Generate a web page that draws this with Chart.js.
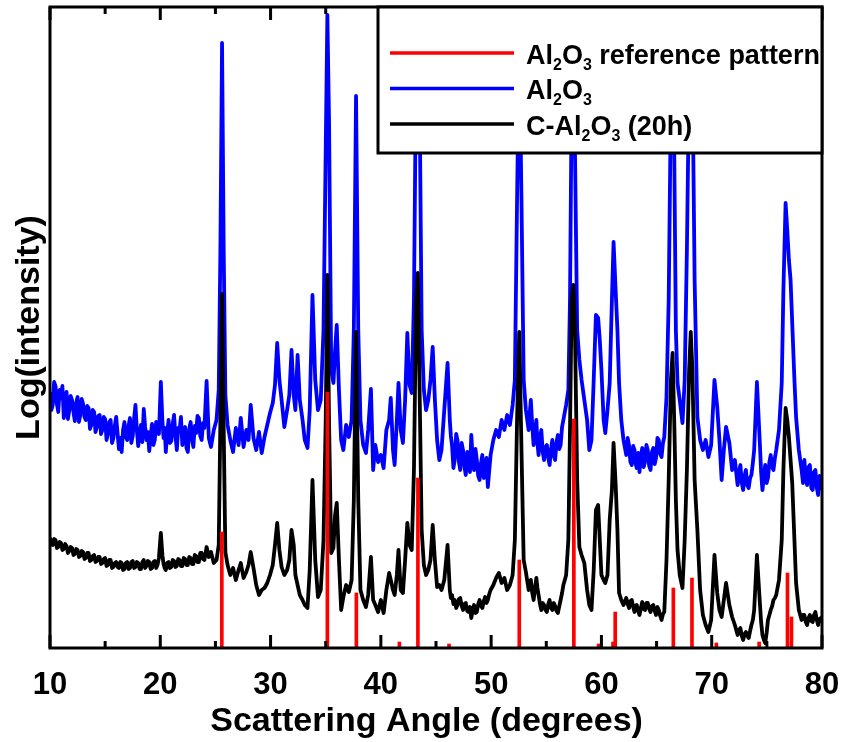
<!DOCTYPE html>
<html>
<head>
<meta charset="utf-8">
<title>XRD patterns</title>
<script src="https://cdn.jsdelivr.net/npm/chart.js@4.4.0/dist/chart.umd.min.js"></script>
<style>
  html, body { margin: 0; padding: 0; background: #fff; }
  #wrap { width: 841px; height: 742px; }
</style>
</head>
<body>
<div id="wrap"><canvas id="xrdChart" width="841" height="742"></canvas></div>
<script>
// 2-theta grid shared by both measured patterns
const angles = [
    10, 10.125, 10.25, 10.375, 10.5, 10.625, 10.75, 10.875, 11, 11.125, 11.25, 11.375, 11.5, 11.625, 11.75, 11.875,
    12, 12.125, 12.25, 12.375, 12.5, 12.625, 12.75, 12.875, 13, 13.125, 13.25, 13.375, 13.5, 13.625, 13.75, 13.875,
    14, 14.125, 14.25, 14.375, 14.5, 14.625, 14.75, 14.875, 15, 15.125, 15.25, 15.375, 15.5, 15.625, 15.75, 15.875,
    16, 16.125, 16.25, 16.375, 16.5, 16.625, 16.75, 16.875, 17, 17.125, 17.25, 17.375, 17.5, 17.625, 17.75, 17.875,
    18, 18.125, 18.25, 18.375, 18.5, 18.625, 18.75, 18.875, 19, 19.125, 19.25, 19.375, 19.5, 19.625, 19.75, 19.875,
    20.05, 20.2, 20.3, 20.4, 20.5, 20.625, 20.75, 20.875, 21, 21.125, 21.25, 21.375, 21.5, 21.625, 21.75, 21.875,
    22, 22.125, 22.25, 22.375, 22.5, 22.625, 22.75, 22.875, 23, 23.125, 23.25, 23.375, 23.5, 23.625, 23.75, 23.875,
    24, 24.2, 24.4, 24.6, 24.85, 25.1, 25.3, 25.45, 25.6, 25.75, 25.9, 26.1, 26.35, 26.6, 26.85,
    27.1, 27.3, 27.55, 27.8, 28, 28.2, 28.45, 28.7, 28.95, 29.2, 29.45, 29.7, 29.95, 30.2,
    30.4, 30.6, 30.8, 31, 31.25, 31.5, 31.7, 31.9, 32.1, 32.25, 32.45, 32.65, 32.9, 33.1, 33.35, 33.55,
    33.8, 34.05, 34.3, 34.55, 34.8, 35, 35.15, 35.3, 35.5, 35.7, 35.85, 36, 36.2, 36.4, 36.6, 36.85,
    37.1, 37.35, 37.55, 37.75, 37.95, 38.15, 38.4, 38.65, 38.85, 39.1, 39.3, 39.5, 39.75,
    40, 40.25, 40.5, 40.75, 40.9, 41.1, 41.25, 41.45, 41.6, 41.8, 42, 42.2, 42.4, 42.6,
    42.8, 43, 43.2, 43.35, 43.5, 43.7, 43.9, 44.1, 44.3, 44.5, 44.7, 44.9, 45.1, 45.3, 45.5, 45.75,
    46.05, 46.25, 46.35, 46.45, 46.58, 46.7, 46.83, 46.95, 47.08, 47.2, 47.33, 47.45, 47.58, 47.7, 47.83, 47.95,
    48.08, 48.2, 48.33, 48.45, 48.58, 48.7, 48.83, 48.95, 49.08, 49.2, 49.33, 49.45, 49.58, 49.7, 49.83, 49.95,
    50.2, 50.45, 50.7, 50.95, 51.2, 51.45, 51.7, 51.95, 52.15, 52.35, 52.55, 52.75, 52.95, 53.15,
    53.4, 53.5, 53.6, 53.73, 53.85, 53.98, 54.1, 54.2, 54.3, 54.43, 54.55, 54.68, 54.8, 54.93, 55.05, 55.18,
    55.3, 55.43, 55.55, 55.68, 55.8, 55.93, 56.05, 56.18, 56.3, 56.43, 56.55, 56.68, 56.8,
    57, 57.15, 57.3, 57.45, 57.6, 57.8, 58, 58.2, 58.45, 58.7, 58.9, 59.1, 59.3, 59.5, 59.7, 59.85,
    60, 60.2, 60.35, 60.55, 60.75, 60.95, 61.1, 61.3, 61.45, 61.6, 61.8, 62,
    62.25, 62.38, 62.5, 62.63, 62.75, 62.88, 63, 63.1, 63.2, 63.33, 63.45, 63.58, 63.7, 63.83, 63.95, 64.08,
    64.2, 64.33, 64.45, 64.58, 64.7, 64.83, 64.95, 65.08, 65.2, 65.33, 65.45, 65.58, 65.7,
    65.9, 66.1, 66.3, 66.45, 66.6, 66.75, 66.9, 67.1, 67.35, 67.55, 67.75, 67.95, 68.1, 68.25, 68.45, 68.7, 68.95,
    69.2, 69.45, 69.7, 69.95, 70.25, 70.5, 70.7, 70.9, 71.1, 71.3, 71.6, 71.85, 72.1,
    72.35, 72.48, 72.6, 72.73, 72.85, 72.98, 73.1, 73.23, 73.35, 73.48, 73.6, 73.73, 73.85, 74.1, 74.35, 74.48,
    74.6, 74.73, 74.85, 74.98, 75.1, 75.23, 75.35, 75.48, 75.6, 75.73, 75.85,
    76.1, 76.35, 76.5, 76.7, 76.85, 77, 77.15, 77.3, 77.5, 77.65, 77.9, 78.15, 78.28, 78.4, 78.53, 78.65,
    78.78, 78.9, 79.03, 79.15, 79.28, 79.4, 79.53, 79.65, 79.78, 79.9, 80
];

// Al2O3 (as received), offset log intensity
const blueLevel = [
    256, 238, 243, 266, 262, 244, 236, 258, 250, 262, 230, 241, 256, 229, 238, 252,
    248, 236, 227, 245, 251, 226, 233, 249, 244, 231, 228, 242, 240, 219, 223, 238,
    236, 216, 221, 232, 233, 214, 218, 231, 229, 208, 214, 226, 228, 205, 210, 222,
    231, 215, 199, 210, 196, 218, 226, 211, 208, 222, 230, 205, 212, 229, 243, 218,
    202, 214, 223, 206, 239, 221, 208, 216, 197, 212, 224, 203, 208, 226, 220, 214,
    266, 225, 210, 220, 196, 214, 228, 205, 207, 224, 233, 212, 198, 220, 218, 231,
    203, 215, 221, 200, 196, 219, 226, 209, 201, 222, 215, 232, 230, 212, 208, 225,
    220, 267, 210, 201, 218, 228, 258, 398, 605, 398, 253, 223, 208, 196, 220,
    203, 230, 201, 218, 208, 243, 210, 198, 216, 195, 211, 223, 235, 245,
    263, 305, 268, 248, 221, 238, 253, 298, 253, 238, 293, 248, 228, 208, 200, 238,
    353, 268, 238, 248, 318, 498, 633, 528, 278, 265, 298, 323, 258, 208, 198, 223,
    211, 228, 318, 552, 318, 228, 203, 195, 218, 259, 178, 203, 186,
    193, 180, 218, 228, 250, 198, 183, 228, 265, 218, 205, 248, 315, 263,
    255, 348, 588, 628, 568, 318, 258, 238, 248, 268, 301, 248, 208, 188, 198, 238,
    285, 228, 212, 203, 180, 188, 214, 208, 186, 178, 205, 198, 181, 173, 196, 193,
    176, 213, 190, 178, 199, 188, 172, 168, 185, 193, 170, 176, 190, 161, 178, 193,
    208, 218, 211, 228, 218, 233, 223, 243, 268, 448, 608, 448, 268, 238,
    218, 235, 248, 222, 203, 216, 228, 205, 193, 210, 218, 196, 188, 201, 203, 190,
    183, 199, 208, 192, 188, 206, 213, 199, 203, 221, 228, 236, 243,
    258, 348, 548, 613, 498, 318, 288, 268, 248, 228, 198, 208, 268, 333, 330, 308,
    278, 228, 215, 238, 265, 348, 406, 355, 318, 265, 228, 208,
    193, 210, 203, 186, 183, 202, 198, 185, 180, 195, 176, 192, 200, 181, 186, 203,
    198, 182, 178, 196, 200, 184, 190, 210, 208, 194, 191, 205, 211,
    251, 348, 548, 588, 498, 318, 265, 248, 225, 268, 398, 568, 588, 578, 368, 231, 208,
    198, 208, 191, 203, 268, 241, 208, 168, 198, 221, 205, 178, 188,
    163, 176, 183, 165, 158, 172, 178, 163, 160, 170, 173, 185, 198, 266, 208, 176,
    158, 172, 183, 165, 170, 186, 193, 181, 178, 190, 198,
    218, 265, 358, 445, 418, 388, 368, 325, 268, 231, 198, 178, 165, 188, 170, 163,
    181, 183, 160, 158, 176, 178, 160, 153, 172, 170, 158
];

// C-Al2O3 after 20 h
const blackLevel = [
    110, 104, 103, 109, 108, 100, 101, 106, 105, 98, 99, 104, 102, 95, 97, 101,
    100, 93, 94, 99, 98, 91, 92, 97, 96, 89, 90, 95, 95, 87, 88, 92,
    93, 86, 87, 91, 91, 84, 85, 89, 90, 82, 83, 88, 88, 80, 81, 85,
    86, 81, 80, 86, 85, 78, 79, 85, 86, 79, 80, 86, 87, 80, 81, 86,
    85, 79, 79, 86, 88, 80, 82, 87, 86, 79, 80, 86, 87, 80, 83, 90,
    115, 92, 84, 80, 78, 85, 86, 80, 81, 88, 87, 81, 82, 89, 88, 82,
    82, 90, 89, 83, 83, 91, 90, 84, 84, 93, 92, 86, 86, 95, 95, 89,
    88, 101, 91, 96, 85, 88, 103, 228, 354, 218, 96, 83, 73, 80, 68,
    78, 85, 70, 76, 83, 96, 80, 63, 53, 58, 60, 65, 73, 83,
    103, 125, 98, 81, 73, 78, 88, 118, 103, 73, 63, 53, 48, 43, 40, 78,
    168, 88, 51, 58, 108, 228, 373, 228, 95, 100, 133, 145, 88, 38, 51, 63,
    56, 68, 148, 316, 148, 58, 48, 41, 53, 91, 48, 43, 36,
    48, 35, 58, 75, 68, 58, 53, 73, 98, 58, 55, 88, 125, 103,
    98, 178, 348, 375, 268, 118, 83, 73, 78, 88, 123, 88, 61, 63, 58, 68,
    103, 58, 50, 53, 44, 48, 40, 43, 49, 50, 42, 38, 44, 45, 37, 36,
    41, 30, 38, 43, 35, 36, 44, 48, 42, 40, 47, 51, 45, 48, 54, 58,
    63, 70, 75, 65, 70, 58, 63, 73, 108, 228, 316, 198, 88, 76,
    58, 66, 68, 55, 48, 60, 70, 60, 53, 44, 38, 45, 43, 38, 36, 44,
    48, 40, 38, 45, 42, 37, 35, 42, 48, 55, 63, 68, 73,
    108, 218, 348, 363, 318, 168, 101, 93, 85, 58, 43, 38, 78, 138, 143, 108,
    73, 68, 65, 73, 128, 158, 205, 161, 118, 55, 48, 43,
    50, 44, 40, 47, 48, 41, 36, 42, 43, 37, 33, 40, 46, 39, 38, 45,
    45, 39, 36, 42, 43, 37, 33, 41, 38, 32, 28, 34, 36,
    88, 168, 268, 295, 228, 148, 98, 73, 60, 108, 178, 278, 316, 278, 168, 118, 58,
    33, 23, 16, 28, 93, 55, 38, 31, 48, 65, 43, 31, 23,
    13, 18, 20, 12, 8, 14, 16, 12, 10, 17, 23, 28, 38, 93, 48, 26,
    13, 8, 5, 15, 28, 33, 38, 42, 48, 50, 53,
    68, 108, 178, 240, 228, 211, 188, 165, 108, 65, 38, 28, 33, 33, 26, 23,
    30, 33, 27, 26, 33, 36, 28, 23, 29, 30, 26
];

// reference stick pattern
const refAngles = [25.58, 35.15, 37.78, 41.68, 43.36, 46.18, 52.55, 57.5, 59.74, 61.05, 61.25, 66.52, 68.21, 70.42, 74.3, 76.87, 77.23];
const refLevel = [116, 256, 55, 6, 170, 4, 88, 229, 4, 6, 36, 60, 70, 5, 6, 75, 31];

const majorTicks = [10, 20, 30, 40, 50, 60, 70, 80];
const minorTicks = [15, 25, 35, 45, 55, 65, 75];

const seriesLabels = ['Al₂O₃ reference pattern', 'Al₂O₃', 'C-Al₂O₃ (20h)'];

const FONT = "'Liberation Sans', Arial, sans-serif";
Chart.defaults.font.family = FONT;
Chart.defaults.color = '#000';

const toPoints = (xs, ys) => xs.map((x, i) => ({ x: x, y: ys[i] }));

// inward ticks on top and bottom plus the box around the plot
const frameTicks = {
    id: 'frameTicks',
    afterDatasetsDraw(chart) {
        const { ctx, chartArea: a, scales: { x } } = chart;
        ctx.save();
        ctx.strokeStyle = '#000';
        ctx.lineWidth = 3;
        ctx.beginPath();
        const addTick = (v, len) => {
            const px = x.getPixelForValue(v);
            ctx.moveTo(px, a.bottom);
            ctx.lineTo(px, a.bottom - len);
            ctx.moveTo(px, a.top);
            ctx.lineTo(px, a.top + len);
        };
        majorTicks.forEach(v => addTick(v, 13));
        minorTicks.forEach(v => addTick(v, 7));
        ctx.stroke();
        ctx.strokeRect(a.left, a.top, a.right - a.left, a.bottom - a.top);
        ctx.restore();
    }
};

// text with subscript digits (₂, ₃) drawn small and lowered
const SUBS = { '₂': '2', '₃': '3' };
function drawFormula(ctx, text, x, y, size) {
    let run = '';
    const flush = () => {
        if (!run) return;
        ctx.font = 'bold ' + size + 'px ' + FONT;
        ctx.fillText(run, x, y);
        x += ctx.measureText(run).width;
        run = '';
    };
    for (const ch of text) {
        if (SUBS[ch]) {
            flush();
            ctx.font = 'bold ' + Math.round(size * 0.6) + 'px ' + FONT;
            ctx.fillText(SUBS[ch], x, y + 6);
            x += ctx.measureText(SUBS[ch]).width;
        } else {
            run += ch;
        }
    }
    flush();
}

// boxed legend in the top right corner, drawn over the traces
const insetLegend = {
    id: 'insetLegend',
    afterDraw(chart) {
        const { ctx, chartArea: a } = chart;
        const w = 444, h = 146;
        const left = a.right - w, top = a.top;
        ctx.save();
        ctx.fillStyle = '#fff';
        ctx.fillRect(left, top, w, h);
        ctx.strokeStyle = '#000';
        ctx.lineWidth = 3;
        ctx.strokeRect(left, top, w, h);
        chart.data.datasets.forEach((ds, i) => {
            const ly = top + 46 + i * 35.5;
            ctx.beginPath();
            ctx.strokeStyle = ds.borderColor;
            ctx.lineWidth = 3.5;
            ctx.moveTo(left + 12, ly);
            ctx.lineTo(left + 136, ly);
            ctx.stroke();
            ctx.fillStyle = '#000';
            ctx.textBaseline = 'alphabetic';
            ctx.textAlign = 'left';
            drawFormula(ctx, ds.label, left + 148, ly + 10.5, 27);
        });
        ctx.restore();
    }
};

const ctx = document.getElementById('xrdChart').getContext('2d');
const xrdChart = new Chart(ctx, {
    type: 'line',
    data: {
        datasets: [
            {
                type: 'bar',
                label: seriesLabels[0],
                data: toPoints(refAngles, refLevel),
                backgroundColor: '#ff0000',
                borderColor: '#ff0000',
                borderWidth: 0,
                barThickness: 3,
                grouped: false,
                order: 0,
            },
            {
                label: seriesLabels[1],
                data: toPoints(angles, blueLevel),
                borderColor: '#0000ff',
                borderWidth: 3.8,
                borderJoinStyle: 'round',
                pointRadius: 0,
                tension: 0,
                fill: false,
                order: 2,
            },
            {
                label: seriesLabels[2],
                data: toPoints(angles, blackLevel),
                borderColor: '#000000',
                borderWidth: 3.8,
                borderJoinStyle: 'round',
                pointRadius: 0,
                tension: 0,
                fill: false,
                order: 1,
            },
        ]
    },
    options: {
        responsive: false,
        animation: false,
        layout: {
            padding: { top: 7, right: 19, left: 0, bottom: 0 }
        },
        plugins: {
            legend: { display: false },
            tooltip: { enabled: false },
        },
        scales: {
            x: {
                type: 'linear',
                min: 10,
                max: 80,
                offset: false,
                grid: { display: false, drawTicks: false },
                border: { display: false },
                afterBuildTicks: scale => {
                    scale.ticks = majorTicks.map(v => ({ value: v }));
                },
                ticks: {
                    font: { size: 31, weight: 'bold' },
                    color: '#000',
                    padding: 19,
                    maxRotation: 0,
                    autoSkip: false,
                },
                title: {
                    display: true,
                    text: 'Scattering Angle (degrees)\u00a0\u00a0',
                    font: { size: 34, weight: 'bold' },
                    color: '#000',
                    padding: { top: 0, bottom: 0 },
                },
                afterFit: scale => {
                    scale.height = 94;
                    scale.paddingLeft = 0;
                    scale.paddingRight = 0;
                },
            },
            y: {
                min: 0,
                max: 641,
                grid: { display: false, drawTicks: false },
                border: { display: false },
                ticks: { display: false },
                title: {
                    display: true,
                    text: 'Log(intensity)',
                    font: { size: 34, weight: 'bold' },
                    color: '#000',
                    padding: { top: 9, bottom: 0 },
                },
                afterFit: scale => { scale.width = 50; },
            }
        }
    },
    plugins: [frameTicks, insetLegend]
});
</script>
</body>
</html>
